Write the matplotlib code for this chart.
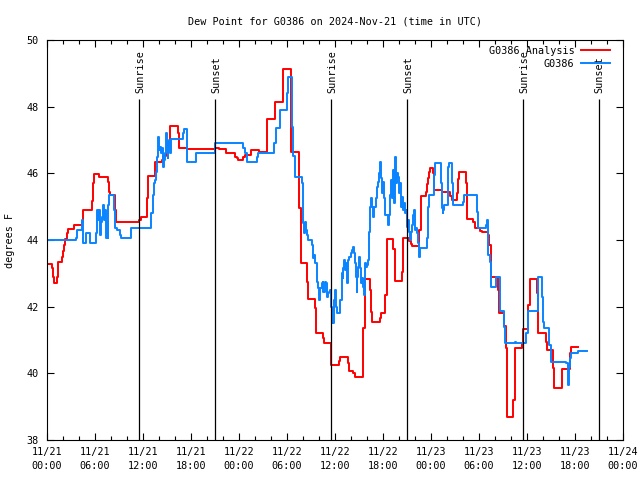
import matplotlib
matplotlib.use("Agg")
import matplotlib.pyplot as plt

# ---------------- data (hours since 2024-11-21 00:00 UTC, degrees F) -------------
red_t = [0, 0.59, 0.75, 0.88, 1.29, 1.41, 1.84, 1.96, 2.13, 2.25, 2.46, 2.59, 3.41, 4.41, 4.54,
         5.59, 5.79, 5.88, 6.5, 7.59, 7.75, 7.88, 8.5, 8.63, 11.54, 11.75, 12.54, 12.66, 13.5,
         14.34, 14.54, 14.84, 15.16, 15.38, 16.41, 16.54, 17.54, 21.0, 21.5, 22.38, 23.5, 23.71,
         23.91, 24.54, 24.75, 25.46, 26.54, 27.46, 28.5, 29.46, 29.54, 30.5, 31.54, 31.71, 32.46,
         32.59, 33.46, 33.63, 34.46, 34.59, 35.46, 35.54, 36.54, 36.66, 37.59, 37.71, 38.29, 38.54,
         39.54, 39.71, 40.38, 40.5, 40.59, 41.63, 41.71, 42.29, 42.46, 42.54, 43.29, 43.5, 44.34,
         44.46, 44.54, 45.29, 45.5, 45.66, 46.54, 46.71, 47.34, 47.46, 47.59, 47.75, 47.88, 48.29,
         48.41, 49.34, 50.38, 50.59, 51.29, 51.41, 51.54, 52.34, 52.54, 53.29, 53.5, 54.13, 54.34,
         55.09, 55.29, 55.46, 56.34, 56.46, 57.16, 57.38, 57.46, 57.54, 58.29, 58.5, 59.34, 59.54,
         60.16, 60.38, 61.21, 61.34, 62.34, 62.46, 63.29, 63.41, 64.34, 64.41, 65.38, 65.54, 66.34]
red_v = [43.28, 43.15, 42.9, 42.7, 42.9, 43.35, 43.5, 43.67, 43.85, 44.02, 44.2, 44.32, 44.45, 44.58, 44.9,
         45.17, 45.7, 45.97, 45.9, 45.75, 45.45, 45.35, 44.9, 44.55, 44.6, 44.68, 45.27, 45.92, 46.35,
         46.4, 46.52, 46.6, 46.95, 47.42, 47.2, 46.75, 46.72, 46.75, 46.72, 46.6, 46.5, 46.45,
         46.4, 46.48, 46.55, 46.7, 46.65, 47.62, 48.15, 48.67, 49.12, 46.65, 44.95, 43.3, 42.75,
         42.22, 41.95, 41.2, 41.05, 40.9, 40.6, 40.24, 40.38, 40.5, 40.3, 40.07, 40.0, 39.88,
         41.35, 42.82, 42.5, 41.83, 41.53, 41.65, 41.8, 42.35, 43.45, 44.02, 43.72, 42.77, 43.05,
         43.72, 44.05, 43.98, 43.88, 43.82, 44.3, 45.33, 45.43, 45.67, 45.85, 46.05, 46.15, 46.0,
         45.5, 45.43, 45.33, 45.2, 45.4, 45.82, 46.05, 45.7, 44.63, 44.55, 44.35, 44.28, 44.23,
         44.15, 43.85, 42.9, 42.5, 41.82, 41.42, 40.75, 39.35, 38.7, 39.2, 40.75, 40.9, 41.32,
         42.05, 42.82, 42.4, 41.22, 40.95, 40.7, 40.15, 39.55, 39.85, 40.12, 40.6, 40.78, 40.78]

blue_t = [0, 3.59, 3.71, 4.34, 4.41, 4.46, 4.88, 5.38, 6.09, 6.21, 6.29, 6.41, 6.5, 6.63, 6.75, 6.88,
          6.96, 7.04, 7.16, 7.29, 7.38, 7.46, 7.59, 7.66, 7.79, 8.41, 8.54, 8.71, 9.13, 9.25, 10.46,
          13.0, 13.21, 13.41, 13.5, 13.63, 13.79, 13.91, 14.04, 14.13, 14.25, 14.38, 14.46, 14.63,
          14.75, 14.88, 14.96, 15.09, 15.16, 15.29, 15.38, 15.5, 17.04, 17.16, 17.46, 17.54, 18.59,
          21.0, 24.54, 24.75, 25.04, 26.21, 26.41, 28.38, 28.59, 29.13, 30.04, 30.16, 30.59, 30.71,
          31.0, 31.84, 31.96, 32.13, 32.25, 32.38, 32.46, 32.66, 33.09, 33.21, 33.29, 33.41, 33.5,
          33.71, 33.84, 34.0, 34.13, 34.34, 34.46, 34.54, 34.75, 34.88, 34.96, 35.09, 35.25, 35.38,
          35.5, 35.59, 35.88, 36.0, 36.13, 36.29, 36.63, 36.84, 36.96, 37.04, 37.16, 37.29, 37.38,
          37.46, 37.59, 37.66, 37.79, 37.96, 38.09, 38.29, 38.41, 38.54, 38.63, 38.71, 38.79, 38.91,
          39.04, 39.13, 39.25, 39.34, 39.46, 39.63, 39.75, 39.88, 40.04, 40.16, 40.29, 40.38, 40.5,
          40.66, 40.79, 40.91, 41.09, 41.21, 41.34, 41.5, 41.63, 41.71, 41.84, 41.91, 42.04, 42.16,
          42.29, 42.59, 42.71, 42.88, 43.0, 43.09, 43.21, 43.29, 43.41, 43.54, 43.66, 43.75, 43.88,
          44.0, 44.13, 44.25, 44.38, 44.5, 44.63, 44.75, 44.88, 45.0, 45.13, 45.25, 45.38, 45.5,
          45.63, 45.75, 45.88, 46.0, 46.13, 46.25, 46.38, 46.5, 46.63, 47.46, 47.59, 47.66, 47.79,
          48.41, 48.54, 49.21, 49.34, 49.46, 49.54, 49.66, 50.09, 50.16, 50.29, 50.59, 50.71, 51.96,
          52.16, 53.71, 53.84, 54.88, 54.96, 55.09, 55.16, 55.38, 55.5, 56.09, 56.63, 57.13, 57.25,
          58.5, 58.59, 59.88, 60.09, 60.16, 61.41, 61.84, 61.96, 62.13, 62.79, 62.96, 64.88, 65.09,
          65.16, 65.29, 65.38, 65.46, 66.41, 67.46]
blue_v = [44.0, 44.05, 44.3, 44.45, 44.6, 43.9, 44.2, 43.9, 44.2, 44.6, 44.9, 44.6, 44.9, 44.15, 44.55, 44.7,
          44.8, 45.05, 44.6, 44.9, 44.05, 44.55, 44.05, 45.05, 45.35, 44.9, 44.35, 44.3, 44.15, 44.05, 44.35,
          44.8, 45.35, 45.7, 45.8, 46.05, 46.5, 47.08, 46.7, 46.8, 46.6, 46.75, 46.2, 46.4,
          46.6, 47.2, 46.7, 46.45, 46.75, 47.0, 46.6, 47.02, 47.2, 47.32, 46.8, 46.35, 46.6,
          46.9, 46.75, 46.6, 46.33, 46.5, 46.6, 46.9, 47.35, 47.9, 48.4, 48.9, 47.4, 46.52,
          45.9, 45.7, 44.5, 44.2, 44.55, 44.3, 44.15, 44.0, 43.85, 43.6, 43.45, 43.55, 43.3,
          42.75, 42.55, 42.2, 42.55, 42.7, 42.75, 42.45, 42.75, 42.7, 42.3, 42.4, 42.45, 42.5,
          42.0, 41.5, 42.2, 42.5, 42.0, 41.8, 42.2, 43.0, 42.85, 43.15, 43.4, 43.1, 43.3,
          42.7, 43.1, 43.4, 43.5, 43.6, 43.7, 43.8, 43.6, 43.3, 42.9, 42.45, 42.9, 43.2,
          43.5, 43.15, 42.7, 42.85, 42.6, 42.35, 43.3, 43.2, 43.25, 43.4, 44.25, 45.0, 45.25,
          45.0, 44.7, 45.0, 45.25, 45.6, 45.75, 46.0, 46.35, 45.85, 45.7, 45.4, 45.75, 45.25,
          44.75, 44.45, 44.75, 45.35, 45.8, 45.25, 45.7, 46.1, 45.1, 46.5, 45.7, 46.0, 45.9,
          45.4, 45.7, 45.0, 45.3, 44.9, 45.1, 44.8, 44.9, 44.4, 44.6, 44.25, 44.0, 44.25,
          44.45, 44.75, 44.9, 44.3, 44.35, 44.2, 43.9, 43.5, 43.75, 44.05, 44.4, 45.0, 45.35,
          45.95, 46.32, 45.7, 44.95, 44.8, 44.9, 45.05, 45.52, 46.2, 46.32, 45.7, 45.05, 45.15,
          45.35, 44.85, 44.35, 44.45, 44.6, 44.3, 43.55, 43.35, 42.6, 42.9, 41.88, 41.4, 40.9,
          40.95, 40.9, 41.2, 41.6, 41.88, 42.9, 42.3, 41.55, 41.35, 40.85, 40.35, 40.3, 40.2,
          39.65, 40.2, 40.45, 40.62, 40.67, 40.67]

sun_times = [11.54, 21.04, 35.54, 45.04, 59.54, 68.96]
sun_names = ["Sunrise", "Sunset", "Sunrise", "Sunset", "Sunrise", "Sunset"]

x_ticks = [0, 6, 12, 18, 24, 30, 36, 42, 48, 54, 60, 66, 72]
x_labels = ["11/21\n00:00", "11/21\n06:00", "11/21\n12:00", "11/21\n18:00",
            "11/22\n00:00", "11/22\n06:00", "11/22\n12:00", "11/22\n18:00",
            "11/23\n00:00", "11/23\n06:00", "11/23\n12:00", "11/23\n18:00",
            "11/24\n00:00"]
y_ticks = [38, 40, 42, 44, 46, 48, 50]

title = "Dew Point for G0386 on 2024-Nov-21 (time in UTC)"
red_name = "G0386 Analysis"
blue_name = "G0386"

# ---------------- plot ---------------------------------------------------------
plt.rcParams['font.family'] = ['DejaVu Sans Mono']
FS = 7.3

fig = plt.figure(figsize=(6.4, 4.8), dpi=100)
ax = fig.add_axes([47/640, 40/480, 576/640, 400/480])

ax.step(red_t, red_v, where='post', color='#ff0000', lw=1.4, label=red_name)
ax.step(blue_t, blue_v, where='post', color='#0a84ff', lw=1.4, label=blue_name)

ax.vlines(sun_times, 38, 48.23, color='black', lw=0.9)
for t, n in zip(sun_times, sun_names):
    ax.text(t + 0.12, 48.42, n, rotation=90, ha='center', va='bottom', fontsize=FS)

ax.set_xlim(0, 72)
ax.set_ylim(38, 50)
ax.set_xticks(x_ticks)
ax.set_xticklabels(x_labels, linespacing=1.45)
ax.set_xticks([h for h in range(0, 73, 2)], minor=True)
ax.set_yticks(y_ticks)
ax.tick_params(axis='both', which='major', direction='in', length=5, width=0.8,
               top=True, right=True, labelsize=FS)
ax.tick_params(axis='x', which='minor', direction='in', length=3, width=0.8, top=True)
ax.tick_params(axis='x', which='major', pad=5)
ax.tick_params(axis='y', which='major', pad=6)
for s in ax.spines.values():
    s.set_linewidth(0.8)

ax.set_ylabel("degrees F", fontsize=FS)
ax.yaxis.set_label_coords(-32/576, 0.5)
ax.set_title(title, fontsize=FS, pad=11.5)

ax.legend(loc='upper right', bbox_to_anchor=(563/576, 0.985), frameon=False,
          markerfirst=False, fontsize=FS, handlelength=2.9, handletextpad=0.6,
          borderpad=0, borderaxespad=0, labelspacing=0.25)

fig.savefig("out.png", dpi=100)
